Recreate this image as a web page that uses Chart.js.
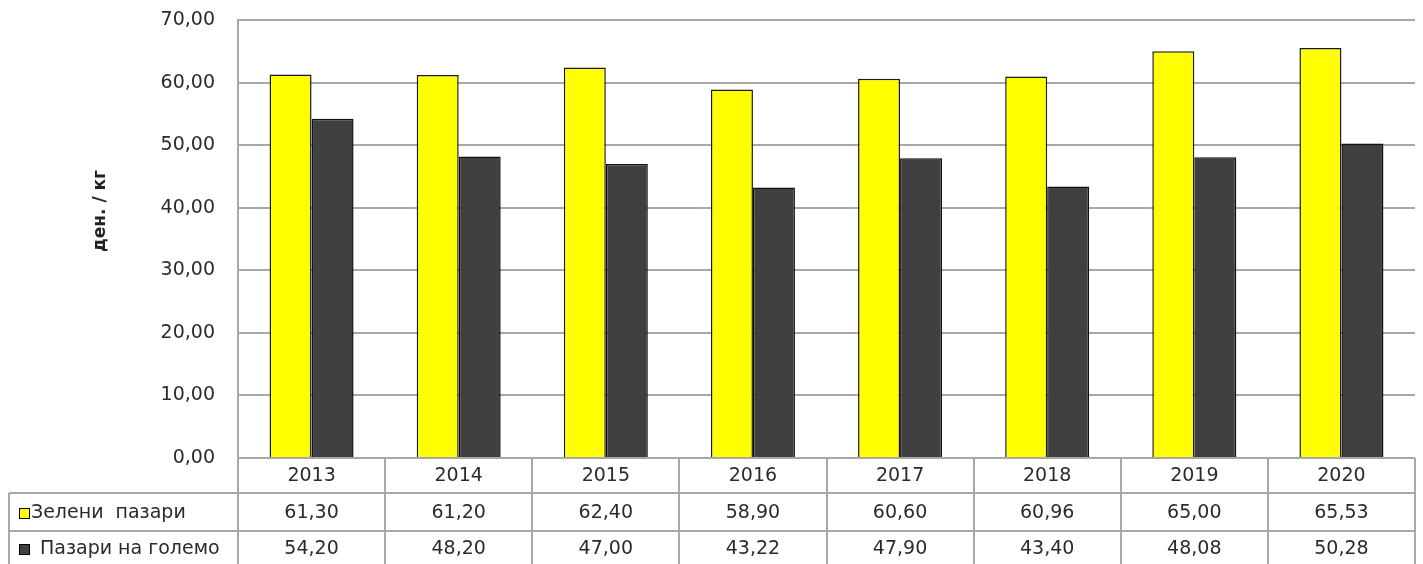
<!DOCTYPE html>
<html>
<head>
<meta charset="utf-8">
<script src="https://cdn.jsdelivr.net/npm/chart.js@4/dist/chart.umd.min.js"></script>
<style>
    html, body { margin: 0; padding: 0; background: #fff; }
    canvas { display: block; }
</style>
</head>
<body>
<canvas id="pricesChart" width="1423" height="564"></canvas>
<script>
const years = ['2013', '2014', '2015', '2016', '2017', '2018', '2019', '2020'];
const greenMarkets = [61.30, 61.20, 62.40, 58.90, 60.60, 60.96, 65.00, 65.53];
const wholesaleMarkets = [54.20, 48.20, 47.00, 43.22, 47.90, 43.40, 48.08, 50.28];
const seriesLabels = ['Зелени  пазари', 'Пазари на големо'];
const yAxisTitle = 'ден. / кг';

const textColor = '#2b2b2b';
const lineColor = '#a8a8a8';
const font = '"DejaVu Sans", Verdana, sans-serif';

const formatValue = v => v.toFixed(2).replace('.', ',');

// data table under the plot, columns follow the x scale
const dataTable = {
    id: 'dataTable',
    afterDraw(chart) {
        const ctx = chart.ctx;
        const xScale = chart.scales.x;
        const area = chart.chartArea;
        const colWidth = area.width / years.length;
        const rows = [area.bottom, 493, 531, 569];
        const headLeft = 9;

        ctx.save();
        ctx.strokeStyle = lineColor;
        ctx.lineWidth = 2;

        ctx.beginPath();
        // horizontal lines
        ctx.moveTo(area.left, rows[0]);
        ctx.lineTo(area.right, rows[0]);
        for (let r = 1; r < rows.length; r++) {
            ctx.moveTo(headLeft, rows[r]);
            ctx.lineTo(area.right, rows[r]);
        }
        // vertical lines
        ctx.moveTo(headLeft, rows[1]);
        ctx.lineTo(headLeft, rows[3]);
        for (let k = 0; k <= years.length; k++) {
            const x = Math.round(area.left + k * colWidth);
            ctx.moveTo(x, rows[0]);
            ctx.lineTo(x, rows[3]);
        }
        ctx.stroke();

        ctx.fillStyle = textColor;
        ctx.font = '19px ' + font;
        ctx.textAlign = 'center';
        ctx.textBaseline = 'middle';

        const centers = [476, 513, 549];
        years.forEach((year, i) => {
            const cx = xScale.getPixelForValue(i);
            ctx.fillText(year, cx, centers[0]);
            ctx.fillText(formatValue(greenMarkets[i]), cx, centers[1]);
            ctx.fillText(formatValue(wholesaleMarkets[i]), cx, centers[2]);
        });

        // row headers with legend keys
        const keyOffsets = [31, 40];
        chart.data.datasets.forEach((ds, r) => {
            const cy = centers[r + 1];
            ctx.fillStyle = ds.backgroundColor;
            ctx.fillRect(19, cy - 5, 11, 11);
            ctx.strokeStyle = '#000';
            ctx.lineWidth = 1;
            ctx.strokeRect(19.5, cy - 4.5, 10, 10);
            ctx.fillStyle = textColor;
            ctx.textAlign = 'left';
            ctx.fillText(ds.label, keyOffsets[r], cy);
        });

        // y axis title
        ctx.translate(101, 211);
        ctx.rotate(-Math.PI / 2);
        ctx.textAlign = 'center';
        ctx.font = 'bold 17px ' + font;
        ctx.fillStyle = '#222';
        ctx.fillText(yAxisTitle, 0, 0);
        ctx.restore();
    }
};

new Chart(document.querySelector('#pricesChart'), {
    type: 'bar',
    data: {
        labels: years,
        datasets: [{
            label: seriesLabels[0],
            data: greenMarkets,
            backgroundColor: '#ffff00',
            borderColor: '#1a1a1a',
            borderWidth: 1.5
        }, {
            label: seriesLabels[1],
            data: wholesaleMarkets,
            backgroundColor: '#404040',
            borderColor: '#111',
            borderWidth: 1.5
        }]
    },
    options: {
        responsive: false,
        animation: false,
        categoryPercentage: 0.571,
        barPercentage: 1,
        layout: {
            padding: {left: 138, right: 8, top: 20, bottom: 106}
        },
        plugins: {
            legend: {display: false},
            tooltip: {enabled: false}
        },
        scales: {
            x: {
                display: false
            },
            y: {
                min: 0,
                max: 70,
                afterFit: scale => {
                    scale.width = 100;
                    scale.paddingTop = 0;
                    scale.paddingBottom = 0;
                },
                ticks: {
                    stepSize: 10,
                    padding: 23,
                    color: textColor,
                    font: {family: font, size: 19},
                    callback: v => formatValue(v)
                },
                grid: {
                    color: lineColor,
                    lineWidth: 2,
                    drawTicks: false
                },
                border: {
                    color: lineColor,
                    width: 2
                }
            }
        }
    },
    plugins: [dataTable]
});
</script>
</body>
</html>
